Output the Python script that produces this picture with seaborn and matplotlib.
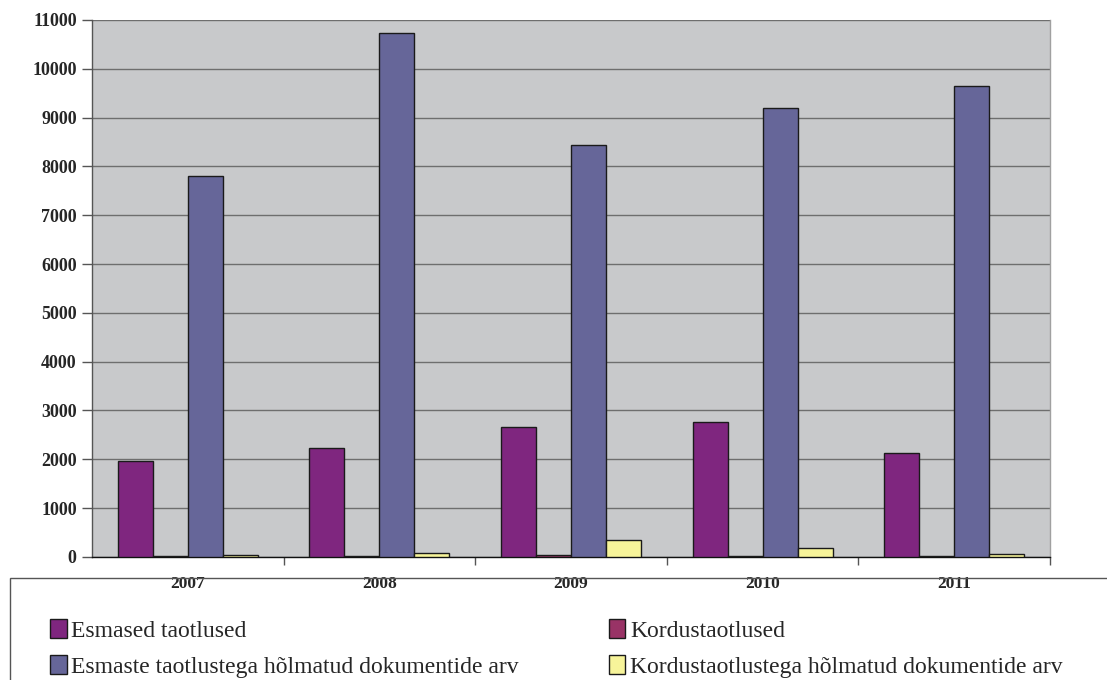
import pandas as pd
import seaborn as sns
import matplotlib.pyplot as plt
import matplotlib.patches as mpatches
from matplotlib.ticker import FixedLocator

years = ["2007", "2008", "2009", "2010", "2011"]
esmased = [1960, 2230, 2670, 2770, 2120]
kordus = [20, 25, 30, 25, 20]
esmaste_docs = [7810, 10730, 8440, 9200, 9650]
kordus_docs = [30, 80, 350, 185, 70]

series = [
    "Esmased taotlused",
    "Kordustaotlused",
    "Esmaste taotlustega hõlmatud dokumentide arv",
    "Kordustaotlustega hõlmatud dokumentide arv",
]
colors = ["#7f267f", "#993366", "#666699", "#f7f49a"]

rows = []
for name, vals in zip(series, [esmased, kordus, esmaste_docs, kordus_docs]):
    for y, v in zip(years, vals):
        rows.append({"Aasta": y, "Seeria": name, "Arv": v})
df = pd.DataFrame(rows)

sns.set_theme(style="white")
plt.rcParams["font.family"] = ["Liberation Serif", "DejaVu Serif"]

fig = plt.figure(figsize=(11.07, 6.8), dpi=100)
ax = fig.add_axes([0.0831, 0.181, 0.8654, 0.7896])
ax.set_facecolor("#c8c9cb")

sns.barplot(data=df, x="Aasta", y="Arv", hue="Seeria", hue_order=series,
            palette=colors, saturation=1, width=0.73, edgecolor="#1a1a1a",
            linewidth=1.0, ax=ax, legend=False, zorder=3)

ax.set_ylim(0, 11000)
ax.set_xlim(-0.5, 4.5)
ax.set_yticks(range(0, 11001, 1000))
ax.yaxis.grid(True, color="#6e6e6e", linewidth=1.0, zorder=0)
ax.set_axisbelow(True)
ax.set_xlabel("")
ax.set_ylabel("")

ax.tick_params(axis="y", which="major", direction="out", length=7, width=1,
               color="#555555", left=True, labelsize=13, pad=4)
ax.tick_params(axis="x", which="major", length=0, labelsize=12.5, pad=14)
ax.xaxis.set_minor_locator(FixedLocator([0.5, 1.5, 2.5, 3.5, 4.5]))
ax.tick_params(axis="x", which="minor", direction="out", length=6, width=1,
               color="#555555", bottom=True)
for lab in ax.get_xticklabels() + ax.get_yticklabels():
    lab.set_fontweight("bold")

ax.spines["top"].set_visible(False)
ax.spines["right"].set_color("#a0a0a0")
ax.spines["left"].set_color("#555555")
ax.spines["bottom"].set_color("#111111")
for s in ax.spines.values():
    s.set_linewidth(1.0)

# legend box
fig.patches.append(mpatches.Rectangle((10 / 1107, -0.01), 1.2, 1 - 578 / 680 + 0.01,
                                      transform=fig.transFigure, fill=False,
                                      edgecolor="#555555", linewidth=1.0))
handles = [mpatches.Patch(facecolor=c, edgecolor="#1a1a1a", linewidth=1.0) for c in colors]
order = [0, 2, 1, 3]
leg = fig.legend([handles[i] for i in order], [series[i] for i in order],
                 loc="upper left", bbox_to_anchor=(0.0367, 0.103), ncol=2,
                 frameon=False, fontsize=17, handlelength=0.7, handleheight=0.85,
                 handletextpad=0.2, columnspacing=3.8, labelspacing=0.55,
                 borderaxespad=0)

fig.savefig("out.png", dpi=100)
